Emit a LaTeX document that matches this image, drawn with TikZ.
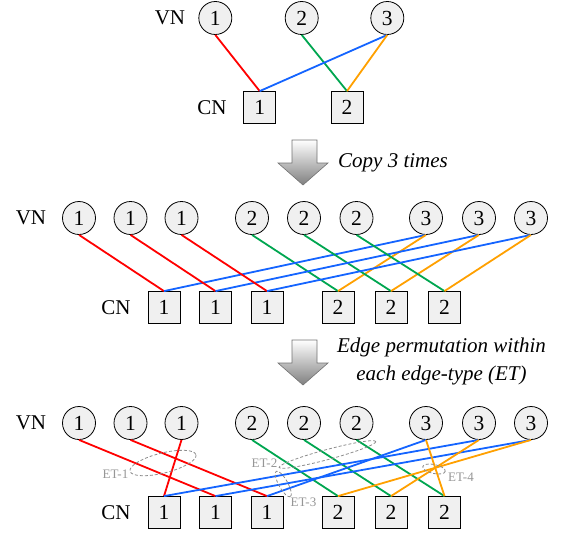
\documentclass[tikz,border=0pt]{standalone}
\usepackage{fontspec}
\setmainfont{Liberation Serif}
\definecolor{nodefill}{RGB}{240,240,240}
\definecolor{edgered}{RGB}{255,0,0}
\definecolor{edgegreen}{RGB}{0,166,80}
\definecolor{edgeblue}{RGB}{20,100,255}
\definecolor{edgeorange}{RGB}{255,160,0}
\definecolor{etgray}{RGB}{140,140,140}
\definecolor{ettext}{RGB}{150,150,150}
\begin{document}
\begin{tikzpicture}[x=1pt,y=-1pt,
  vn/.style={circle,draw=black,fill=nodefill,line width=0.8pt,minimum size=33pt,inner sep=0pt,
    font=\fontsize{21.5}{24}\selectfont},
  cn/.style={rectangle,draw=black,fill=nodefill,line width=0.8pt,minimum size=32pt,inner sep=0pt,
    font=\fontsize{21.5}{24}\selectfont},
  lbl/.style={inner sep=0pt,font=\fontsize{21}{24}\selectfont},
  note/.style={inner sep=0pt,font=\fontsize{21}{24}\selectfont\itshape},
  er/.style={draw=edgered,line width=1.8pt},
  eg/.style={draw=edgegreen,line width=1.8pt},
  eb/.style={draw=edgeblue,line width=1.8pt},
  eo/.style={draw=edgeorange,line width=1.8pt},
  etring/.style={draw=etgray,dash pattern=on 3pt off 2pt,line width=0.8pt},
  etlbl/.style={text=ettext,inner sep=0pt,font=\fontsize{13}{15}\selectfont},
  bigarrow/.style={top color=white,bottom color=black!50,draw=black!55,line width=0.6pt}
]
\useasboundingbox (0,0) rectangle (567,533);

% ---------- single protograph ----------
\node[lbl] (t-vnl) at (170,18) {VN};
\node[lbl] (t-cnl) at (212,107.5) {CN};
\node[vn] (t-v1) at (215.3,18) {1};
\node[vn] (t-v2) at (301.7,18) {2};
\node[vn] (t-v3) at (387.3,18) {3};
\node[cn] (t-c1) at (259.7,107.5) {1};
\node[cn] (t-c2) at (347,107.5) {2};
\draw[er] (t-v1.south) -- (t-c1.north);
\draw[eg] (t-v2.south) -- (t-c2.north);
\draw[eb] (t-v3.south) -- (t-c1.north);
\draw[eo] (t-v3.south) -- (t-c2.north);

% ---------- copy arrow ----------
\shadedraw[bigarrow] (292,140) -- (317,140) -- (317,163) -- (328,163) -- (303,185)
  -- (278,163) -- (292,163) -- cycle;
\node[note,anchor=base west] (copytxt) at (338,167) {Copy 3 times};

% ---------- three copies ----------
\node[lbl] (m-vnl) at (31,218) {VN};
\node[lbl] (m-cnl) at (116,307.5) {CN};
\foreach \x/\t [count=\i] in {79/1,130.5/1,181.5/1,252/2,304/2,356.5/2,426/3,479/3,531/3}
  \node[vn] (m-v\i) at (\x,218) {\t};
\foreach \x/\t [count=\i] in {164/1,215.5/1,267/1,338/2,391/2,444.5/2}
  \node[cn] (m-c\i) at (\x,307.5) {\t};
\foreach \i in {1,2,3}{
  \pgfmathtruncatemacro{\g}{\i+3}
  \pgfmathtruncatemacro{\o}{\i+6}
  \draw[er] (m-v\i.south) -- (m-c\i.north);
  \draw[eg] (m-v\g.south) -- (m-c\g.north);
  \draw[eb] (m-v\o.south) -- (m-c\i.north);
  \draw[eo] (m-v\o.south) -- (m-c\g.north);
}

% ---------- permutation arrow ----------
\shadedraw[bigarrow] (292,340) -- (317,340) -- (317,363) -- (328,363) -- (303,385)
  -- (278,363) -- (292,363) -- cycle;
\node[note,anchor=base] (permtxt1) at (441.5,352.5) {Edge permutation within};
\node[note,anchor=base] (permtxt2) at (441.5,380) {each edge-type (ET)};

% ---------- lifted graph ----------
\node[lbl] (b-vnl) at (31,423) {VN};
\node[lbl] (b-cnl) at (116,512.5) {CN};
\foreach \x/\t [count=\i] in {79/1,130.5/1,181.5/1,252/2,304/2,356.5/2,426/3,479/3,531/3}
  \node[vn] (b-v\i) at (\x,423) {\t};
\foreach \x/\t [count=\i] in {164/1,215.5/1,267/1,338/2,391/2,444.5/2}
  \node[cn] (b-c\i) at (\x,512.5) {\t};
% ET-1 (red)
\draw[er] (b-v1.south) -- (b-c2.north);
\draw[er] (b-v2.south) -- (b-c3.north);
\draw[er] (b-v3.south) -- (b-c1.north);
% ET-2 (green)
\draw[eg] (b-v4.south) -- (b-c4.north);
\draw[eg] (b-v5.south) -- (b-c5.north);
\draw[eg] (b-v6.south) -- (b-c6.north);
% ET-3 (blue)
\draw[eb] (b-v7.south) -- (b-c3.north);
\draw[eb] (b-v8.south) -- (b-c1.north);
\draw[eb] (b-v9.south) -- (b-c2.north);
% ET-4 (orange)
\draw[eo] (b-v7.south) -- (b-c6.north);
\draw[eo] (b-v8.south) -- (b-c5.north);
\draw[eo] (b-v9.south) -- (b-c4.north);

% edge-type markers
\draw[etring,rotate around={14:(163,463)}] (163,463) ellipse [x radius=34, y radius=10];
\draw[etring,rotate around={15:(327.5,454.5)}] (327.5,454.5) ellipse [x radius=50, y radius=5];
\draw[etring,rotate around={-61:(283.3,484)}] (283.3,484) ellipse [x radius=14.5, y radius=4.5];
\draw[etring,rotate around={-12:(434,469)}] (434,469) ellipse [x radius=11.5, y radius=4.5];
\node[etlbl] (et1) at (115.5,474.5) {ET-1};
\node[etlbl] (et2) at (264.5,463.5) {ET-2};
\node[etlbl] (et3) at (303.5,502.5) {ET-3};
\node[etlbl] (et4) at (461,477) {ET-4};
\end{tikzpicture}
\end{document}
